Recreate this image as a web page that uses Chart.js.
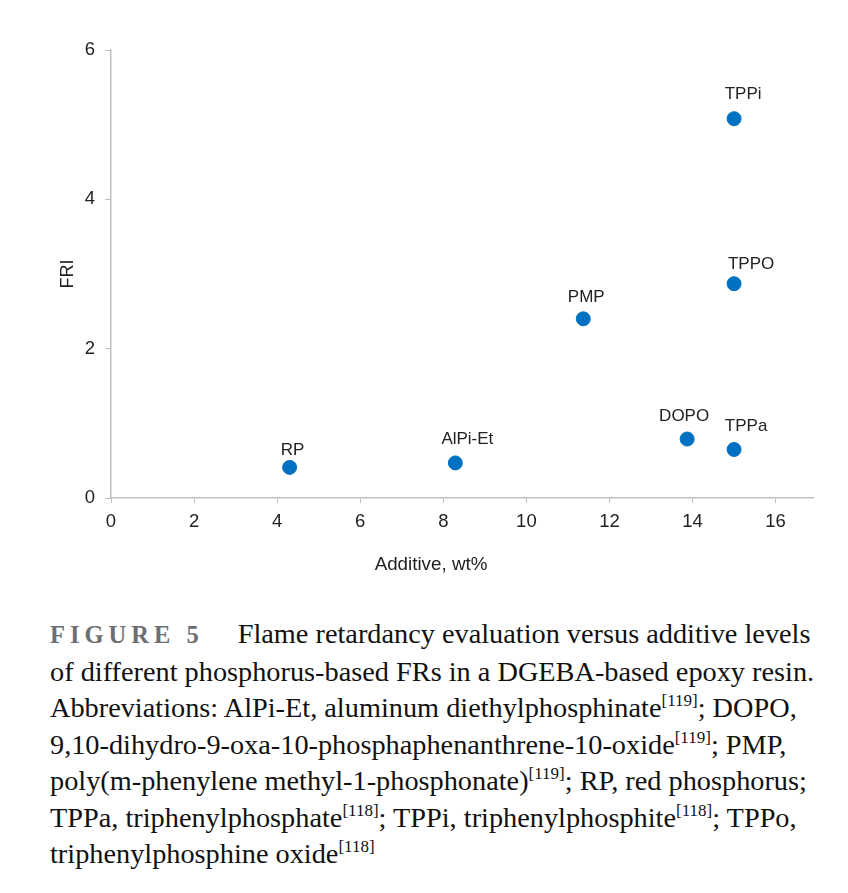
<!DOCTYPE html>
<html>
<head>
<meta charset="utf-8">
<script src="https://cdn.jsdelivr.net/npm/chart.js@4.4.1/dist/chart.umd.min.js"></script>
<style>
    html, body { margin: 0; padding: 0; background: #fff; }
    body { width: 848px; height: 893px; position: relative; overflow: hidden; }
    #chartBox { position: absolute; left: 0; top: 0; width: 848px; height: 590px; }
    #caption {
        position: absolute; left: 50px; top: 616px; width: 798px;
        font-family: "Liberation Serif", "Times New Roman", serif;
        font-size: 28.3px; line-height: 36.5px; color: #111; white-space: nowrap;
    }
    #caption .fig {
        font-weight: bold; color: #6d6e71; font-size: 24.5px; letter-spacing: 5px;
        margin-right: 34px;
    }
    #caption sup { font-size: 17px; line-height: 0; vertical-align: 0; position: relative; top: -11px; }
</style>
</head>
<body>
<div id="chartBox"><canvas id="friChart"></canvas></div>
<div id="caption">
<span class="fig">FIGURE 5</span>Flame retardancy evaluation versus additive levels<br>
of different phosphorus-based FRs in a DGEBA-based epoxy resin.<br>
Abbreviations: AlPi-Et, aluminum diethylphosphinate<sup>[119]</sup>; DOPO,<br>
9,10-dihydro-9-oxa-10-phosphaphenanthrene-10-oxide<sup>[119]</sup>; PMP,<br>
poly(m-phenylene methyl-1-phosphonate)<sup>[119]</sup>; RP, red phosphorus;<br>
TPPa, triphenylphosphate<sup>[118]</sup>; TPPi, triphenylphosphite<sup>[118]</sup>; TPPo,<br>
triphenylphosphine oxide<sup>[118]</sup>
</div>
<script>
// Data
const names = ['RP', 'AlPi-Et', 'PMP', 'DOPO', 'TPPa', 'TPPi', 'TPPO'];
const additiveWt = [4.3, 8.29, 11.37, 13.87, 15.0, 15.0, 15.0];
const friValues = [0.41, 0.47, 2.40, 0.79, 0.65, 5.08, 2.87];
const xTicks = [0, 2, 4, 6, 8, 10, 12, 14, 16];
const yTicks = [0, 2, 4, 6];
const xTitle = 'Additive, wt%';

// Label nudges (style only), in px relative to the point
const labelDx = [3, 12, 3, -3, 12, 9, 17];
const labelDy = [-17, -24, -21, -23, -23, -24, -19];

const axisGray = '#bfbfbf';
const textColor = '#222';
const fontFamily = '"Liberation Sans", Arial, sans-serif';

// Draws the point names above each marker and the x axis title
const pointLabels = {
    id: 'pointLabels',
    afterDatasetsDraw(chart) {
        const ctx = chart.ctx;
        const meta = chart.getDatasetMeta(0);
        ctx.save();
        ctx.font = '17px ' + fontFamily;
        ctx.fillStyle = textColor;
        ctx.textAlign = 'center';
        ctx.textBaseline = 'middle';
        meta.data.forEach((pt, i) => {
            ctx.fillText(names[i], pt.x + labelDx[i], pt.y + labelDy[i]);
        });
        // x title sits left of the plot centre in the original
        ctx.font = '18.8px ' + fontFamily;
        ctx.fillText(xTitle, 431, 565);
        ctx.restore();
    }
};

const ctx = document.getElementById('friChart').getContext('2d');
new Chart(ctx, {
    type: 'scatter',
    data: {
        datasets: [{
            data: additiveWt.map((x, i) => ({ x: x, y: friValues[i] })),
            backgroundColor: '#0070c0',
            borderColor: '#0070c0',
            pointRadius: 7,
            pointHoverRadius: 7
        }]
    },
    options: {
        responsive: true,
        maintainAspectRatio: false,
        animation: false,
        layout: { padding: { top: 50, right: 35, left: 0, bottom: 0 } },
        plugins: {
            legend: { display: false },
            tooltip: { enabled: false }
        },
        scales: {
            x: {
                type: 'linear',
                min: 0,
                max: 16.9,
                afterBuildTicks: (scale) => { scale.ticks = xTicks.map(v => ({ value: v })); },
                afterFit: (scale) => { scale.height = 92; },
                grid: { drawOnChartArea: false, drawTicks: true, tickLength: 5, color: axisGray },
                border: { color: axisGray, width: 1.5 },
                ticks: { color: textColor, font: { size: 18.5, family: fontFamily }, padding: 8, maxRotation: 0 }
            },
            y: {
                min: 0,
                max: 6,
                afterBuildTicks: (scale) => { scale.ticks = yTicks.map(v => ({ value: v })); },
                afterFit: (scale) => { scale.width = 111; },
                grid: { drawOnChartArea: false, drawTicks: true, tickLength: 6, color: axisGray },
                border: { color: axisGray, width: 1.5 },
                ticks: { color: textColor, font: { size: 18.5, family: fontFamily }, padding: 10 },
                title: {
                    display: true, text: 'FRI', color: textColor,
                    font: { size: 18, family: fontFamily }, padding: { top: 57, bottom: 57 }
                }
            }
        }
    },
    plugins: [pointLabels]
});
</script>
</body>
</html>
